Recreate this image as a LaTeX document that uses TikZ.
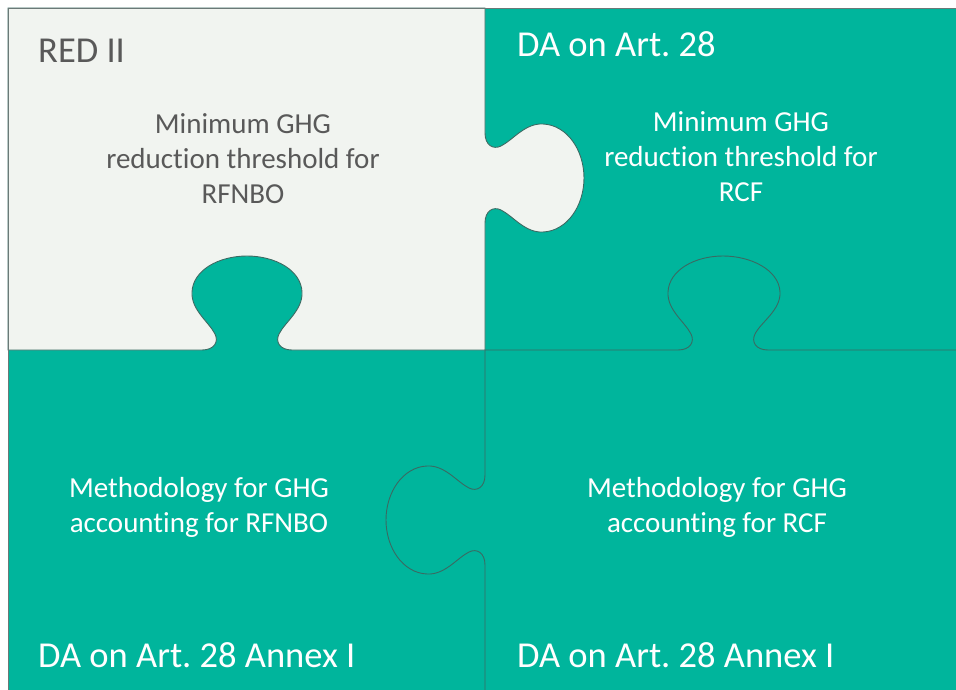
\documentclass[tikz,border=0pt]{standalone}
\usepackage{fontspec}
\setmainfont{Carlito}[Ligatures={NoCommon}]
\frenchspacing
\definecolor{teal1}{HTML}{00B59C}
\definecolor{lightp}{HTML}{F1F4F0}
\definecolor{edge}{HTML}{3A6A62}
\definecolor{txtgray}{HTML}{595959}
\tikzset{
  seam/.style={draw=edge, line width=0.9pt},
  title/.style={anchor=base west, inner sep=0pt, font=\fontsize{36.5}{42}\selectfont},
  body/.style={align=center, inner sep=0pt, font=\fontsize{29}{35}\selectfont},
}
\begin{document}
\begin{tikzpicture}[x=1pt,y=-1pt]
\useasboundingbox (0,0) rectangle (956,690);
\fill[white] (0,0) rectangle (956,690);
% teal base
\fill[teal1] (8,8) rectangle (956,690);
% light piece
\path[fill=lightp, seam] (8,8) -- (485,8) -- (485,133)
  .. controls (485,145) and (493,150) .. (501,146)
  .. controls (513,140) and (525,123) .. (543,124)
  .. controls (567,125) and (584,150) .. (584,178)
  .. controls (584,206) and (567,231) .. (543,232)
  .. controls (525,233) and (513,216) .. (501,210)
  .. controls (493,206) and (485,211) .. (485,223)
  -- (485,350) -- (292,350)
  .. controls (280,350) and (275,342) .. (279,334)
  .. controls (285,322) and (303,310) .. (302,292)
  .. controls (301,270) and (275,256) .. (247,256)
  .. controls (219,256) and (193,270) .. (192,292)
  .. controls (191,310) and (209,322) .. (215,334)
  .. controls (219,342) and (214,350) .. (202,350)
  -- (8,350) -- cycle;
% horizontal seam right
\draw[seam] (485,350) -- (678,350)
  .. controls (690,350) and (695,342) .. (691,334)
  .. controls (685,322) and (667,310) .. (668,292)
  .. controls (669,270) and (695,256) .. (723,256)
  .. controls (751,256) and (779,270) .. (780,292)
  .. controls (781,310) and (761,322) .. (755,334)
  .. controls (751,342) and (756,350) .. (768,350) -- (956,350);
% vertical seam bottom
\draw[seam] (485,350) -- (485,475)
  .. controls (485,487) and (477,492) .. (469,488)
  .. controls (457,482) and (445,465) .. (427,466)
  .. controls (403,467) and (386,492) .. (386,520)
  .. controls (386,548) and (403,573) .. (427,574)
  .. controls (445,575) and (457,558) .. (469,552)
  .. controls (477,548) and (485,553) .. (485,565) -- (485,690);
% outer border
\draw[draw=gray!70!edge, line width=0.9pt] (8,690) -- (8,8) -- (956,8);
% texts
\node[title, text=txtgray] (t1) at (38,63) {RED II};
\node[title, text=white] (t2) at (517,57) {DA on Art. 28};
\node[title, text=white] (t3) at (38,667) {DA on Art. 28 Annex I};
\node[title, text=white] (t4) at (517,667) {DA on Art. 28 Annex I};
\node[body, text=txtgray] (b1) at (243,159) {Minimum GHG\\reduction threshold for\\RFNBO};
\node[body, text=white] (b2) at (741,157) {Minimum GHG\\reduction threshold for\\RCF};
\node[body, text=white] (b3) at (199,507) {Methodology for GHG\\accounting for RFNBO};
\node[body, text=white] (b4) at (717,507) {Methodology for GHG\\accounting for RCF};
\end{tikzpicture}
\end{document}
